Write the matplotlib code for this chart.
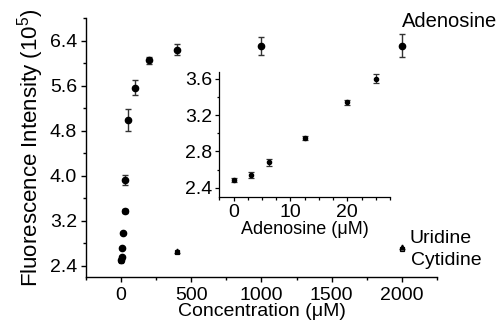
import matplotlib
matplotlib.use("Agg")
import matplotlib.pyplot as plt
from matplotlib.ticker import MultipleLocator

plt.rcParams['font.family'] = ['Liberation Sans', 'DejaVu Sans']
plt.rcParams['mathtext.fontset'] = 'custom'
plt.rcParams['mathtext.rm'] = 'Liberation Sans'
plt.rcParams['mathtext.it'] = 'Liberation Sans:italic'

# Main plot data (concentration in uM, intensity in 1e5)
ade_x = [0, 3.125, 6.25, 12.5, 25, 30, 50, 100, 200, 400, 1000, 2000]
ade_y = [2.50, 2.56, 2.71, 2.98, 3.37, 3.93, 4.99, 5.56, 6.05, 6.24, 6.30, 6.31]
ade_err = [0.02, 0.02, 0.02, 0.02, 0.03, 0.09, 0.20, 0.13, 0.06, 0.10, 0.16, 0.21]

uri_x = [0, 400, 2000]
uri_y = [2.50, 2.66, 2.73]
cyt_x = [0, 400, 2000]
cyt_y = [2.48, 2.64, 2.69]

# Inset data
ins_x = [0, 3.125, 6.25, 12.5, 20, 25]
ins_y = [2.485, 2.54, 2.68, 2.95, 3.34, 3.60]
ins_err = [0.025, 0.03, 0.04, 0.025, 0.03, 0.05]

main_xticks = [0, 500, 1000, 1500, 2000]
main_yticks = [2.4, 3.2, 4.0, 4.8, 5.6, 6.4]
ins_xticks = [0, 10, 20]
ins_yticks = [2.4, 2.8, 3.2, 3.6]

fig = plt.figure(figsize=(4.99, 3.26), dpi=100)
ax = fig.add_axes([0.1723, 0.1503, 0.7034, 0.7945])

ax.errorbar(cyt_x, cyt_y, fmt='s', ms=3.5, mfc='white', mec='black', mew=0.9,
            color='black', linestyle='none')
ax.errorbar(uri_x, uri_y, fmt='^', ms=3.5, color='black', linestyle='none')
ax.errorbar(ade_x, ade_y, yerr=ade_err, fmt='o', ms=4.5, color='black',
            ecolor='#333333', elinewidth=1.0, capsize=2.5, capthick=1.0, linestyle='none')

ax.set_xlim(-250, 2250)
ax.set_ylim(2.2, 6.8)
ax.set_xticks(main_xticks)
ax.set_yticks(main_yticks)
ax.set_yticklabels([f"{v:.1f}" for v in main_yticks])
ax.xaxis.set_minor_locator(MultipleLocator(250))
ax.yaxis.set_minor_locator(MultipleLocator(0.4))
for s in ['top', 'right']:
    ax.spines[s].set_visible(False)
for s in ['left', 'bottom']:
    ax.spines[s].set_linewidth(1.0)
ax.tick_params(which='major', direction='out', length=3.5, width=1.0, labelsize=14)
ax.tick_params(axis='y', which='major', pad=3)
ax.tick_params(axis='x', which='major', pad=4)
ax.tick_params(which='minor', direction='out', length=2, width=1.0)
ax.set_xlabel("Concentration (\u03bcM)", fontsize=14, labelpad=-1)
ax.set_ylabel(r"Fluorescence Intensity (10$^{5}$)", fontsize=16, labelpad=3)

ax.text(2000, 6.73, "Adenosine", fontsize=14.5, ha='left', va='center')
ax.text(2057, 2.89, "Uridine", fontsize=14, ha='left', va='center')
ax.text(2064, 2.49, "Cytidine", fontsize=14, ha='left', va='center')

ins = fig.add_axes([0.4395, 0.3966, 0.342, 0.3835])
ins.errorbar(ins_x, ins_y, yerr=ins_err, fmt='o', ms=3, color='black',
             ecolor='#333333', elinewidth=0.9, capsize=2, capthick=0.9, linestyle='none')
ins.set_xlim(-2.5, 27.5)
ins.set_ylim(2.3, 3.68)
ins.set_xticks(ins_xticks)
ins.set_yticks(ins_yticks)
ins.set_yticklabels([f"{v:.1f}" for v in ins_yticks])
ins.xaxis.set_minor_locator(MultipleLocator(2.5))
ins.yaxis.set_minor_locator(MultipleLocator(0.2))
for s in ['top', 'right']:
    ins.spines[s].set_visible(False)
for s in ['left', 'bottom']:
    ins.spines[s].set_linewidth(0.9)
ins.tick_params(which='major', direction='out', length=3, width=0.9, labelsize=14, pad=2)
ins.tick_params(which='minor', direction='out', length=1.8, width=0.9)
ins.set_xlabel("Adenosine (\u03bcM)", fontsize=13, labelpad=0)

fig.savefig("out.png", dpi=100)
